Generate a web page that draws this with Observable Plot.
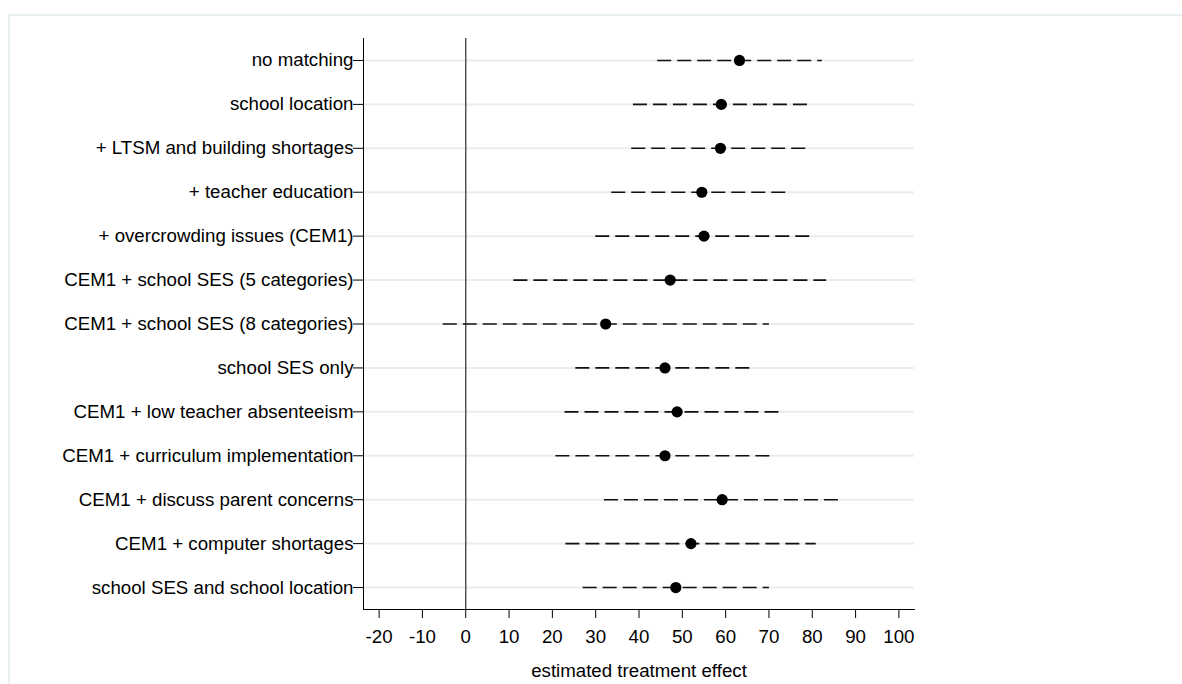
<!DOCTYPE html>
<html>
<head>
<meta charset="utf-8">
<script src="https://cdn.jsdelivr.net/npm/d3@7"></script>
<script src="https://cdn.jsdelivr.net/npm/@observablehq/plot@0.6"></script>
<style>
  html, body { margin: 0; padding: 0; background: #fff; overflow: hidden; }
  #wrap { position: relative; width: 1182px; height: 684px; }
  #frame { position: absolute; left: 8px; top: 14px; width: 1200px; height: 700px; border: 2px solid #e9f0f2; box-sizing: border-box; }
  #chart { position: absolute; left: 0; top: 0; }
</style>
</head>
<body>
<div id="wrap"><div id="frame"></div><div id="chart"></div></div>
<script>
const categories = [
  "no matching",
  "school location",
  "+ LTSM and building shortages",
  "+ teacher education",
  "+ overcrowding issues (CEM1)",
  "CEM1 + school SES (5 categories)",
  "CEM1 + school SES (8 categories)",
  "school SES only",
  "CEM1 + low teacher absenteeism",
  "CEM1 + curriculum implementation",
  "CEM1 + discuss parent concerns",
  "CEM1 + computer shortages",
  "school SES and school location"
];
const estimates = [63.2, 59.0, 58.8, 54.5, 55.0, 47.2, 32.3, 46.0, 48.8, 46.0, 59.2, 52.0, 48.5];
const lower     = [44.2, 38.6, 38.2, 33.6, 29.9, 11.0, -5.3, 25.3, 22.8, 20.7, 31.9, 23.0, 27.0];
const upper     = [82.2, 79.4, 79.0, 74.3, 79.9, 83.2, 70.0, 66.2, 73.3, 70.6, 86.5, 80.8, 70.0];
const xTicks = [-20, -10, 0, 10, 20, 30, 40, 50, 60, 70, 80, 90, 100];
const xTitle = "estimated treatment effect";

const rows = categories.map((c, i) => ({cat: c, est: estimates[i], lo: lower[i], hi: upper[i]}));

const font = "'Liberation Sans', Arial, Helvetica, sans-serif";

const chart = Plot.plot({
  width: 1182,
  height: 684,
  marginLeft: 363,
  marginRight: 268,
  marginTop: 38,
  marginBottom: 75,
  style: {fontFamily: font, fontSize: "18.7px", color: "#000", background: "transparent"},
  x: {domain: [-23.6, 103.6], ticks: xTicks, tickFormat: d => String(d), label: null},
  y: {type: "point", domain: categories, padding: 0.5, round: false, label: null},
  marks: [
    Plot.gridY({stroke: "#e6eef0", strokeOpacity: 1, strokeWidth: 2}),
    Plot.ruleX([0], {stroke: "#4a4a4a", strokeWidth: 1.4}),
    Plot.link(rows, {x1: "lo", x2: "hi", y1: "cat", y2: "cat", stroke: "#111", strokeWidth: 1.6, strokeDasharray: "14,6"}),
    Plot.dot(rows, {x: "est", y: "cat", r: 5.6, fill: "#000", stroke: "none"}),
    Plot.frame({anchor: "left", stroke: "#000", strokeWidth: 1}),
    Plot.frame({anchor: "bottom", stroke: "#000", strokeWidth: 1}),
    Plot.axisY({tickSize: 10, tickPadding: 0, fontSize: 18.7, label: null, stroke: "#000"}),
    Plot.axisX({ticks: xTicks, tickSize: 9, tickPadding: 11, fontSize: 18.7, label: null, tickFormat: d => String(d)}),
    Plot.text([xTitle], {frameAnchor: "bottom", dy: 67, text: d => d, fontSize: 18.7, fill: "#000"})
  ]
});
document.getElementById("chart").appendChild(chart);
</script>
</body>
</html>
